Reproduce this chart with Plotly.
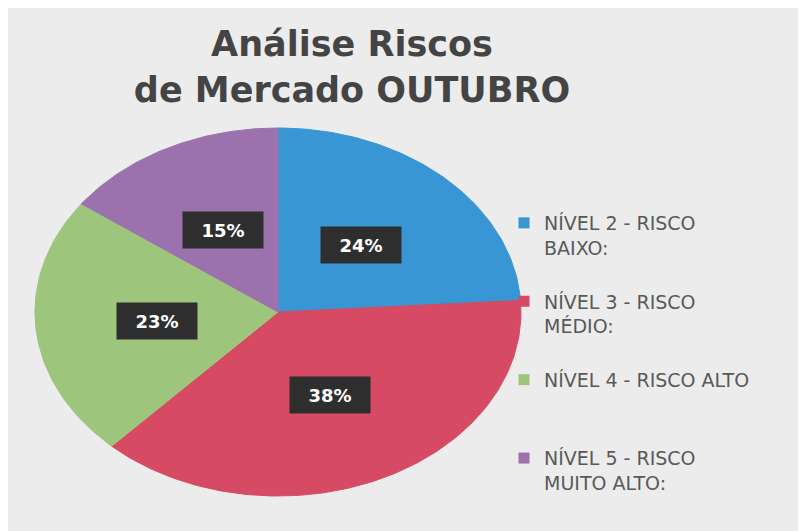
import math
import plotly.graph_objects as go

# ---- data ----
categories = ["NÍVEL 2 - RISCO<br>BAIXO:", "NÍVEL 3 - RISCO<br>MÉDIO:",
              "NÍVEL 4 - RISCO ALTO<br> ", "NÍVEL 5 - RISCO<br>MUITO ALTO:"]
values = [24, 38, 23, 15]
colors = ["#3896d4", "#d74a63", "#9dc67c", "#9b72ad"]
title_lines = ["Análise Riscos", "de Mercado OUTUBRO"]

# ---- layout geometry (pixels; page shows the figure offset by 8px) ----
W, H = 806, 531
CX, CY = 270, 304        # pie centre
RX, RY = 243, 184        # pie radii (elliptical pie)

fig = go.Figure()

total = sum(values)
start = 0.0
mids = []
for cat, v, col in zip(categories, values, colors):
    span = 360.0 * v / total
    n = max(int(span), 2)
    xs, ys = [0.0], [0.0]
    for i in range(n + 1):
        a = math.radians(start + span * i / n)
        xs.append(math.sin(a))
        ys.append(math.cos(a))
    xs.append(0.0)
    ys.append(0.0)
    fig.add_trace(go.Scatter(x=xs, y=ys, mode="lines", fill="toself",
                             fillcolor=col, line=dict(color=col, width=1),
                             showlegend=False, hoverinfo="skip"))
    mids.append(math.radians(start + span / 2))
    start += span

# legend entries (square swatches)
for i, (cat, col) in enumerate(zip(categories, colors)):
    fig.add_trace(go.Scatter(x=[None], y=[None], mode="markers", name=cat,
                             marker=dict(symbol="square", size=11, color=col),
                             legendgroup=str(i)))

# data labels
for v, m in zip(values, mids):
    fig.add_annotation(x=0.5 * math.sin(m), y=0.5 * math.cos(m), text=f"<b>{v}%</b>",
                       showarrow=False, bgcolor="#2e2e2e", width=78, height=34,
                       font=dict(family="DejaVu Sans", size=18, color="#ffffff"))

fig.update_layout(
    width=W, height=H,
    margin=dict(l=0, r=0, t=0, b=0),
    paper_bgcolor="#ececec", plot_bgcolor="#ececec",
    title=dict(text="<br>".join(title_lines), x=344 / W, xanchor="center",
               y=1 - 48 / H, yanchor="middle", yref="container",
               font=dict(family="DejaVu Sans", size=35, color="#444444", weight="bold")),
    xaxis=dict(range=[-CX / RX, (W - CX) / RX], visible=False, fixedrange=True),
    yaxis=dict(range=[-(H - CY) / RY, CY / RY], visible=False, fixedrange=True),
    legend=dict(x=496 / W, y=1 - 196 / H, xanchor="left", yanchor="top",
                traceorder="grouped", tracegroupgap=26, valign="top",
                bgcolor="rgba(0,0,0,0)",
                font=dict(family="DejaVu Sans", size=19, color="#595959")),
)

fig.write_html("out.html")
